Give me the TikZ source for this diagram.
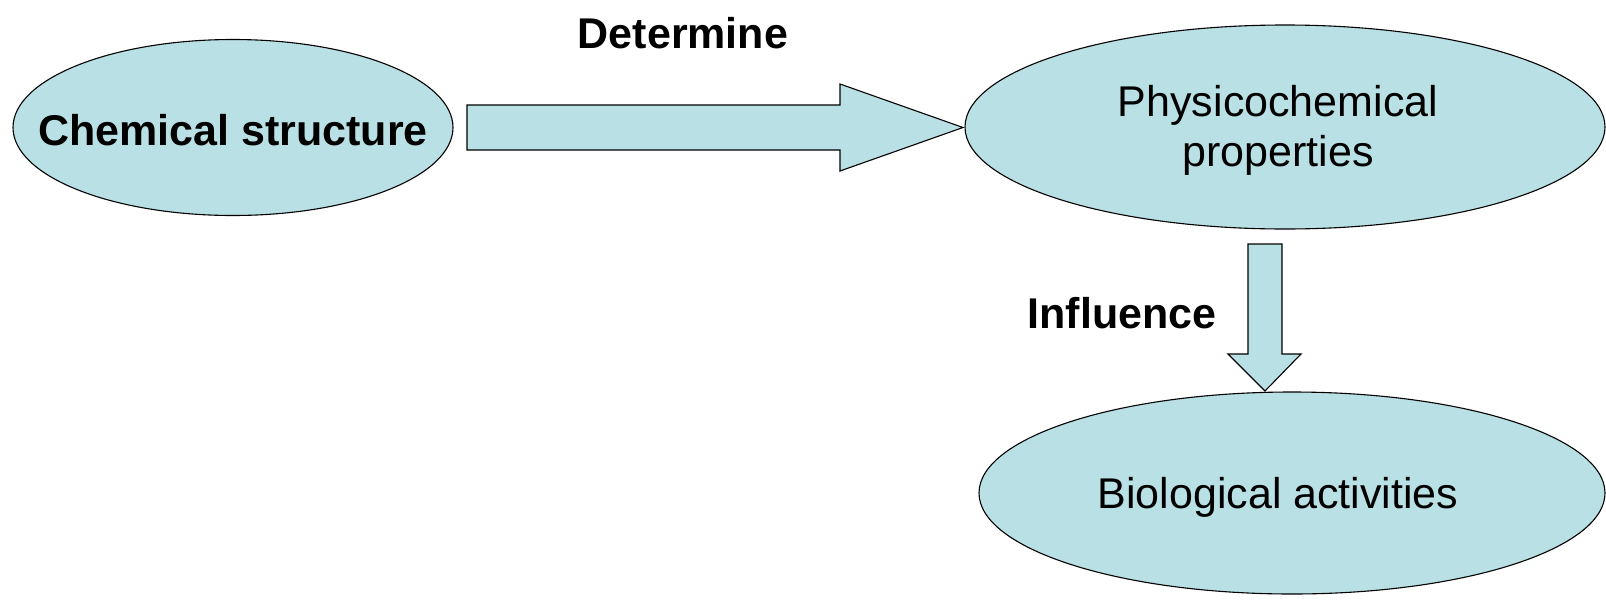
\documentclass[tikz,border=0pt]{standalone}
\usepackage{fontspec}
\setmainfont{Liberation Sans}
\usetikzlibrary{shapes.geometric}
\definecolor{lblue}{RGB}{185,224,228}
\tikzset{
  ell/.style={draw=black, fill=lblue, line width=1.1pt},
  blockarrow/.style={draw=black, fill=lblue, line width=1.1pt, line join=miter},
  lbl/.style={font=\fontsize{43}{50}\selectfont\bfseries, inner sep=0pt},
  txt/.style={font=\fontsize{43}{50}\selectfont, align=center, inner sep=0pt}
}
\begin{document}
\begin{tikzpicture}[x=1pt,y=-1pt]
\useasboundingbox (0,0) rectangle (1606,608);
% ellipses
\draw[ell] (233,127.5) ellipse [x radius=220, y radius=88];
\draw[ell] (1285,127) ellipse [x radius=320, y radius=102];
\draw[ell] (1292,493) ellipse [x radius=313, y radius=101];
\node[txt, font=\fontsize{43}{50}\selectfont\bfseries] (chem) at (233,130) {Chemical structure};
\node[txt] (phys) at (1278,130) {Physicochemical\\properties};
\node[txt] (bio) at (1278,497) {Biological activities};
% horizontal block arrow
\coordinate (h1) at (467,105);
\coordinate (h2) at (840,105);
\coordinate (h3) at (840,84);
\coordinate (htip) at (963,127.5);
\coordinate (h4) at (840,171);
\coordinate (h5) at (840,150);
\coordinate (h6) at (467,150);
\draw[blockarrow] (h1) -- (h2) -- (h3) -- (htip) -- (h4) -- (h5) -- (h6) -- cycle;
% vertical block arrow
\coordinate (v1) at (1248,244);
\coordinate (v2) at (1282,244);
\coordinate (v3) at (1282,354);
\coordinate (v4) at (1301,354);
\coordinate (vtip) at (1265,391);
\coordinate (v5) at (1228,354);
\coordinate (v6) at (1248,354);
\draw[blockarrow] (v1) -- (v2) -- (v3) -- (v4) -- (vtip) -- (v5) -- (v6) -- cycle;
% labels
\node[lbl] (det) at (683,33) {Determine};
\node[lbl] (inf) at (1122,313) {Influence};
\end{tikzpicture}
\end{document}
